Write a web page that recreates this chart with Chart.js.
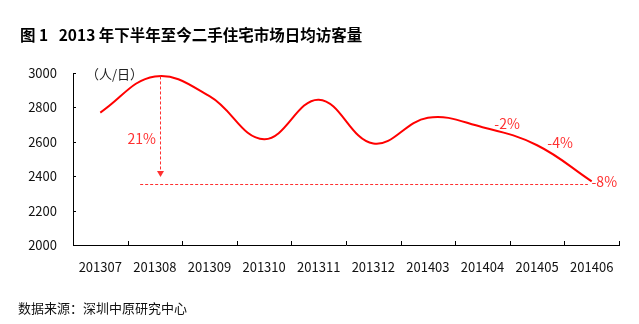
<!DOCTYPE html>
<html lang="zh">
<head>
    <meta charset="UTF-8">
    <title>二手住宅市场日均访客量</title>
    <script src="https://cdn.jsdelivr.net/npm/chart.js@4.4.1/dist/chart.umd.min.js"></script>
    <style>
        body { margin: 0; background: #fff; font-family: "Noto Sans CJK SC", sans-serif; }
        #wrap { position: relative; width: 639px; height: 324px; }
        #title { position: absolute; left: 20px; top: 23px; font-size: 15.5px; font-weight: bold; color: #000; white-space: pre; }
        #unit { position: absolute; left: 86px; top: 64px; font-size: 13px; color: #222; }
        #source { position: absolute; left: 18px; top: 298px; font-size: 13px; color: #111; }
    </style>
</head>
<body>
<div id="wrap">
    <canvas id="wykres" width="639" height="324"></canvas>
    <div id="title">图 1   2013 年下半年至今二手住宅市场日均访客量</div>
    <div id="unit">（人/日）</div>
    <div id="source">数据来源：深圳中原研究中心</div>
</div>
<script>
    // dane
    const months = ['201307', '201308', '201309', '201310', '201311', '201312', '201403', '201404', '201405', '201406'];
    const visitors = [2770, 2980, 2865, 2615, 2845, 2590, 2740, 2685, 2580, 2370];
    const yTicks = [2000, 2200, 2400, 2600, 2800, 3000];

    // adnotacje (w jednostkach osi)
    const noteText = ['21%', '-2%', '-4%', '-8%'];
    const noteX = [0.76, 7.45, 8.42, 9.23];
    const noteY = [2621, 2705, 2592, 2366];
    const baseLine = { from: 0.73, to: 8.93, y: 2353 };
    const arrow = { x: 1.09, from: 2980, to: 2395 };

    const red = '#ff0000';
    const noteRed = '#ff3030';

    const extras = {
        id: 'extras',
        afterDatasetsDraw(chart) {
            const c = chart.ctx;
            const x = chart.scales.x;
            const y = chart.scales.y;
            const area = chart.chartArea;
            c.save();
            // ticks pointing inwards
            c.strokeStyle = '#000';
            c.lineWidth = 1;
            c.beginPath();
            for (let i = 0; i <= months.length; i++) {
                const px = Math.round(x.getPixelForValue(i - 0.5)) + 0.5;
                c.moveTo(px, area.bottom);
                c.lineTo(px, area.bottom - 4);
            }
            for (let i = 0; i < yTicks.length; i++) {
                const py = Math.round(y.getPixelForValue(yTicks[i])) + 0.5;
                c.moveTo(area.left, py);
                c.lineTo(area.left + 3, py);
            }
            c.stroke();

            // dashed baseline
            c.strokeStyle = noteRed;
            c.setLineDash([3, 2]);
            c.beginPath();
            const by = Math.round(y.getPixelForValue(baseLine.y)) + 0.5;
            c.moveTo(x.getPixelForValue(baseLine.from), by);
            c.lineTo(x.getPixelForValue(baseLine.to), by);
            c.stroke();

            // dashed arrow
            const ax = Math.round(x.getPixelForValue(arrow.x)) + 0.5;
            const ay1 = y.getPixelForValue(arrow.from);
            const ay2 = y.getPixelForValue(arrow.to);
            c.beginPath();
            c.moveTo(ax, ay1);
            c.lineTo(ax, ay2 - 5);
            c.stroke();
            c.setLineDash([]);
            c.fillStyle = noteRed;
            c.beginPath();
            c.moveTo(ax - 3.5, ay2 - 6);
            c.lineTo(ax + 3.5, ay2 - 6);
            c.lineTo(ax, ay2);
            c.closePath();
            c.fill();

            // labels
            c.font = '14px "Noto Sans CJK SC", sans-serif';
            c.textAlign = 'center';
            c.textBaseline = 'middle';
            for (let i = 0; i < noteText.length; i++) {
                c.fillText(noteText[i], x.getPixelForValue(noteX[i]), y.getPixelForValue(noteY[i]));
            }
            c.restore();
        }
    };

    const ctx = document.getElementById('wykres').getContext('2d');
    const wykres = new Chart(ctx, {
        type: 'line',
        data: {
            labels: months,
            datasets: [{
                data: visitors,
                borderColor: red,
                borderWidth: 2,
                pointRadius: 0,
                tension: 0.4,
                fill: false
            }]
        },
        options: {
            responsive: false,
            animation: false,
            events: [],
            layout: { padding: { top: 73, right: 20, left: 0, bottom: 0 } },
            plugins: { legend: { display: false }, tooltip: { enabled: false } },
            scales: {
                x: {
                    offset: true,
                    grid: { display: true, drawOnChartArea: false, drawTicks: false, offset: true },
                    border: { color: '#000', width: 1 },
                    ticks: { color: '#111', padding: 14, maxRotation: 0, autoSkip: false,
                             font: { family: '"Noto Sans CJK SC", sans-serif', size: 13 } },
                    afterFit(s) { s.height = 79; }
                },
                y: {
                    min: 2000,
                    max: 3000,
                    afterBuildTicks(s) { s.ticks = yTicks.map(v => ({ value: v })); },
                    grid: { display: true, drawOnChartArea: false, drawTicks: false },
                    border: { color: '#000', width: 1 },
                    ticks: { color: '#111', padding: 16,
                             callback: v => String(v),
                             font: { family: '"Noto Sans CJK SC", sans-serif', size: 13 } },
                    afterFit(s) { s.width = 73; }
                }
            }
        },
        plugins: [extras]
    });
</script>
</body>
</html>
